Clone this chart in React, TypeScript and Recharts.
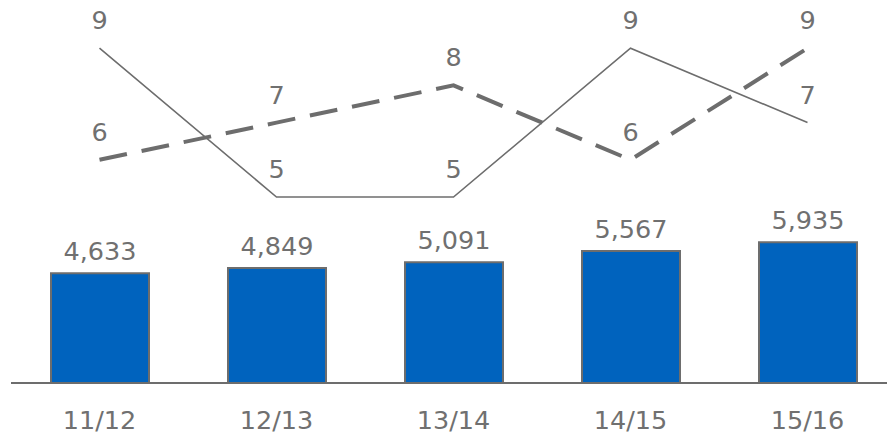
import React from 'react';
import { ComposedChart, Bar, Line, XAxis, YAxis, LabelList } from 'recharts';

const categories = ['11/12', '12/13', '13/14', '14/15', '15/16'];
const barValues = [4633, 4849, 5091, 5567, 5935];
const solidValues = [9, 5, 5, 9, 7];
const dashedValues = [6, 7, 8, 6, 9];

const data = categories.map((c, i) => ({
  name: c,
  bar: barValues[i],
  solid: solidValues[i],
  dashed: dashedValues[i],
}));

const GREY = '#6d6d6d';
const TEXT = '#707070';
const BLUE = '#0063be';
const FS = 25.5;

export default function App() {
  return (
    <div
      style={{
        position: 'absolute',
        left: 0,
        top: 0,
        width: 887,
        height: 436,
        overflow: 'hidden',
        background: '#fff',
        fontFamily: '"DejaVu Sans", sans-serif',
      }}
    >
      <ComposedChart
        width={900}
        height={436}
        data={data}
        margin={{ top: 11, right: 4, left: 11, bottom: 23 }}
      >
        <XAxis
          dataKey="name"
          height={30}
          tickLine={false}
          axisLine={{ stroke: GREY, strokeWidth: 2 }}
          tick={{ fill: TEXT, fontSize: FS }}
          tickMargin={22}
        />
        <YAxis yAxisId="bar" hide domain={[0, 15700]} />
        <YAxis yAxisId="line" hide domain={[0, 10]} orientation="right" />
        <Bar
          yAxisId="bar"
          dataKey="bar"
          fill={BLUE}
          stroke={GREY}
          strokeWidth={2}
          barSize={98}
          isAnimationActive={false}
        >
          <LabelList
            dataKey="bar"
            position="top"
            offset={13}
            fill={TEXT}
            fontSize={FS}
            formatter={(v: number) => v.toLocaleString('en-US')}
          />
        </Bar>
        <Line
          yAxisId="line"
          dataKey="solid"
          stroke={GREY}
          strokeWidth={1.6}
          dot={false}
          activeDot={false}
          type="linear"
          isAnimationActive={false}
        >
          <LabelList dataKey="solid" position="top" offset={19} fill={TEXT} fontSize={FS} />
        </Line>
        <Line
          yAxisId="line"
          dataKey="dashed"
          stroke={GREY}
          strokeWidth={4}
          strokeDasharray="28 15"
          dot={false}
          activeDot={false}
          type="linear"
          isAnimationActive={false}
        >
          <LabelList dataKey="dashed" position="top" offset={19} fill={TEXT} fontSize={FS} />
        </Line>
      </ComposedChart>
    </div>
  );
}
